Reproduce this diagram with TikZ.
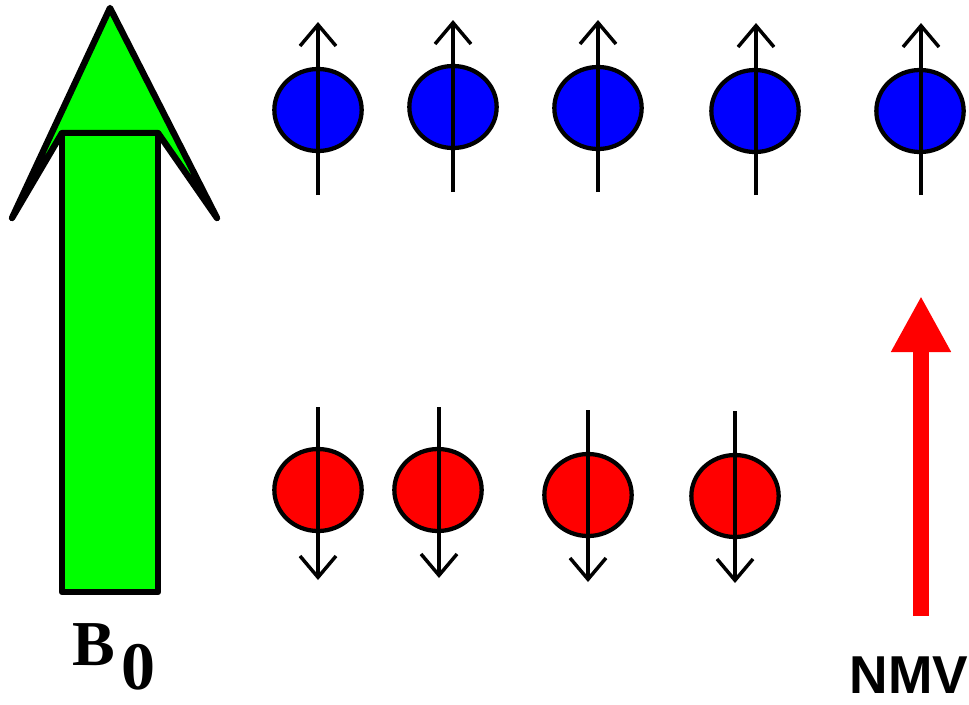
\documentclass[tikz,border=0pt]{standalone}
\usepackage{fontspec}
\setmainfont{Liberation Serif}
\setsansfont{Liberation Sans}
\usetikzlibrary{shapes.geometric,arrows.meta}
\definecolor{spinblue}{RGB}{0,0,255}
\definecolor{spinred}{RGB}{255,0,0}
\definecolor{fieldgreen}{RGB}{0,255,0}

\begin{document}
\begin{tikzpicture}[x=0.75pt,y=-0.75pt,
    spin/.style={ellipse,draw,line width=3.2pt,minimum width=65.5pt,minimum height=61.5pt,inner sep=0pt},
    up spin/.style={spin,fill=spinblue},
    down spin/.style={spin,fill=spinred},
    moment/.style={line width=2.6pt,-{Straight Barb[length=16pt,width=27pt]}},
    field/.style={draw=black,fill=fieldgreen,line width=4.8pt,line join=round}]

    \useasboundingbox (0,0) rectangle (969,704);

    % B0 field arrow
    \path[field] (110,8) -- (12,218) -- (62,133) -- (158,133) -- (217,218) -- cycle;
    \path[field] (62,133) rectangle (158,592);
    \node[anchor=base west,inner sep=0pt,font=\bfseries\fontsize{48}{48}\selectfont] (b) at (72,665) {B};
    \node[anchor=base west,inner sep=0pt,font=\bfseries\fontsize{51}{51}\selectfont] (0) at (121,689) {0};

    % parallel (low energy) spins
    \node[up spin] (u1) at (318,110) {};
    \node[up spin] (u2) at (453,107) {};
    \node[up spin] (u3) at (598,108) {};
    \node[up spin] (u4) at (755,111) {};
    \node[up spin] (u5) at (920,111) {};
    \coordinate (u1s) at (318,195); \coordinate (u1n) at (318,22);
    \coordinate (u2s) at (453,192); \coordinate (u2n) at (453,20);
    \coordinate (u3s) at (598,192); \coordinate (u3n) at (598,20);
    \coordinate (u4s) at (756,195); \coordinate (u4n) at (756,23);
    \coordinate (u5s) at (921,195); \coordinate (u5n) at (921,23);

    % anti-parallel (high energy) spins
    \node[down spin] (d1) at (318,490) {};
    \node[down spin] (d2) at (438,490) {};
    \node[down spin] (d3) at (588,495) {};
    \node[down spin] (d4) at (735,496) {};
    \coordinate (d1n) at (318,407); \coordinate (d1s) at (318,580);
    \coordinate (d2n) at (439,407); \coordinate (d2s) at (439,578);
    \coordinate (d3n) at (588,410); \coordinate (d3s) at (588,582);
    \coordinate (d4n) at (735,411); \coordinate (d4s) at (735,583);

    \path[moment]
        (u1s) edge (u1n)
        (u2s) edge (u2n)
        (u3s) edge (u3n)
        (u4s) edge (u4n)
        (u5s) edge (u5n)
        (d1n) edge (d1s)
        (d2n) edge (d2s)
        (d3n) edge (d3s)
        (d4n) edge (d4s)
        ;

    % net magnetisation vector
    \coordinate (nmvtail) at (921,616);
    \coordinate (nmvtip) at (921,296);
    \draw[spinred,line width=12pt,-{Triangle[length=42pt,width=42pt]}] (nmvtail) -- (nmvtip);
    \node[anchor=base,inner sep=0pt,font=\sffamily\bfseries\fontsize{40}{40}\selectfont] (nmv) at (909,693) {NMV};
\end{tikzpicture}
\end{document}
